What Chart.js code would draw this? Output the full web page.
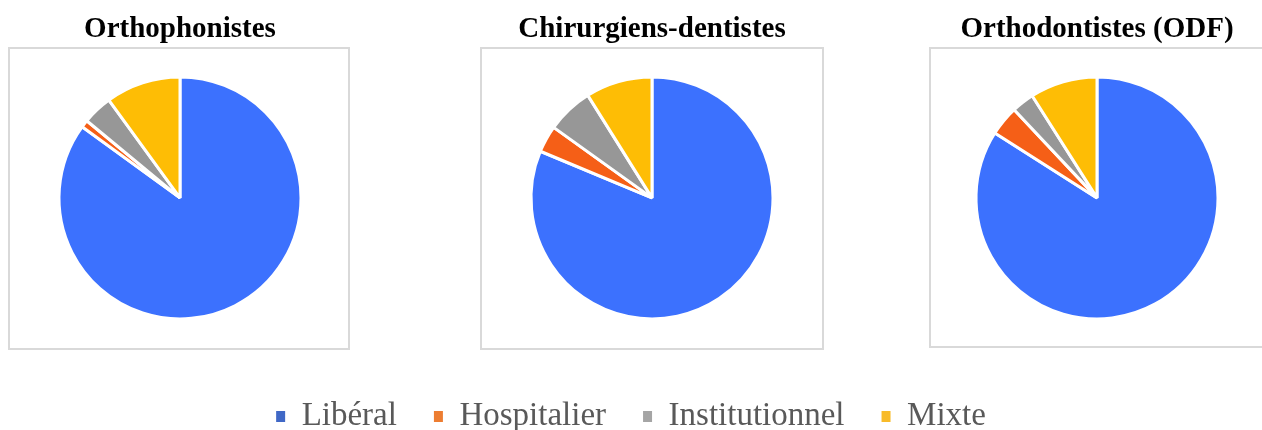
<!DOCTYPE html>
<html>
<head>
<meta charset="utf-8">
<script src="https://cdn.jsdelivr.net/npm/chart.js@4"></script>
<style>
  html, body { margin: 0; padding: 0; background: #ffffff; }
  #stage { position: relative; width: 1262px; height: 430px; overflow: hidden; background: #fff; }
  .box { position: absolute; border: 2px solid #d9d9d9; box-sizing: border-box; }
  canvas { position: absolute; }
</style>
</head>
<body>
<div id="stage">
  <div class="box" style="left:8px; top:47px; width:342px; height:303px;"></div>
  <div class="box" style="left:480px; top:47px; width:344px; height:303px;"></div>
  <div class="box" style="left:929px; top:47px; width:400px; height:301px;"></div>
  <canvas id="c0" width="360" height="349" style="left:0px; top:0px;"></canvas>
  <canvas id="c1" width="360" height="349" style="left:472px; top:0px;"></canvas>
  <canvas id="c2" width="360" height="349" style="left:917px; top:0px;"></canvas>
  <canvas id="lg" width="1262" height="180" style="left:0px; top:363px;"></canvas>
</div>
<script>
const categories = ['Libéral', 'Hospitalier', 'Institutionnel', 'Mixte'];
const chartTitles = ['Orthophonistes', 'Chirurgiens-dentistes', 'Orthodontistes (ODF)'];
const orthophonistes = [85, 1, 4, 10];
const chirurgiensDentistes = [81.3, 3.6, 6.2, 8.9];
const orthodontistes = [84, 4, 3, 9];
const sliceColors = ['#3c71fe', '#f55f17', '#979797', '#febd05'];
const legendColors = ['#4068c6', '#ed7d31', '#a5a5a5', '#f8bb2a'];

const serif = "'Liberation Serif', 'Times New Roman', serif";
Chart.defaults.font.family = serif;

const seriesList = [orthophonistes, chirurgiensDentistes, orthodontistes];

seriesList.forEach((values, i) => {
  new Chart(document.getElementById('c' + i), {
    type: 'pie',
    data: {
      labels: categories,
      datasets: [{
        label: chartTitles[i],
        data: values,
        backgroundColor: sliceColors,
        borderColor: '#ffffff',
        borderWidth: 3
      }]
    },
    options: {
      responsive: false,
      animation: false,
      radius: 121,
      layout: { padding: 0 },
      plugins: {
        legend: { display: false },
        tooltip: { enabled: false },
        title: {
          display: true,
          text: chartTitles[i],
          color: '#000000',
          font: { family: serif, size: 29, weight: 'bold', lineHeight: 1.2 },
          padding: { top: 12, bottom: 0 }
        }
      }
    }
  });
});

new Chart(document.getElementById('lg'), {
  type: 'pie',
  data: { labels: categories, datasets: [] },
  options: {
    responsive: false,
    animation: false,
    layout: { padding: 0 },
    plugins: {
      tooltip: { enabled: false },
      title: { display: false },
      legend: {
        display: true,
        position: 'top',
        maxHeight: 120,
        labels: {
          color: '#595959',
          font: { family: serif, size: 33 },
          boxWidth: 9,
          boxHeight: 11,
          padding: 37,
          generateLabels: () => categories.map((c, i) => ({
            text: c, fillStyle: legendColors[i], strokeStyle: legendColors[i],
            lineWidth: 0, hidden: false, index: i, fontColor: '#595959'
          }))
        }
      }
    }
  }
});
</script>
</body>
</html>
